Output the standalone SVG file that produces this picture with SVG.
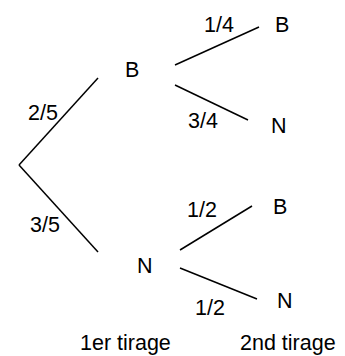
<svg xmlns="http://www.w3.org/2000/svg" width="345" height="356" viewBox="0 0 345 356">
<style>
text{font-family:"Liberation Sans",Arial,sans-serif;font-size:21.5px;fill:#000}
line{stroke:#000;stroke-width:1.5;fill:none}
</style>
<rect width="345" height="356" fill="#fff"/>
<g id="connectors">
<line x1="19" y1="165" x2="98" y2="78"/>
<line x1="19" y1="165" x2="98" y2="252"/>
<line x1="175" y1="65" x2="259" y2="27"/>
<line x1="175" y1="85" x2="248" y2="120"/>
<line x1="180" y1="250" x2="252" y2="206"/>
<line x1="180" y1="268" x2="257" y2="299"/>
</g>
<g id="labels">
<text x="28" y="120">2/5</text>
<text x="30" y="232">3/5</text>
<text x="204" y="32">1/4</text>
<text x="188" y="128">3/4</text>
<text x="187" y="217">1/2</text>
<text x="195" y="315">1/2</text>
</g>
<g id="node-B1"><text x="125" y="77">B</text></g>
<g id="node-N1"><text x="137" y="273">N</text></g>
<g id="node-B2"><text x="275" y="32">B</text></g>
<g id="node-N2"><text x="271" y="133">N</text></g>
<g id="node-B3"><text x="273" y="214">B</text></g>
<g id="node-N3"><text x="277" y="308">N</text></g>
<g id="captions">
<text x="80" y="350">1er tirage</text>
<text x="240" y="350">2nd tirage</text>
</g>
</svg>
